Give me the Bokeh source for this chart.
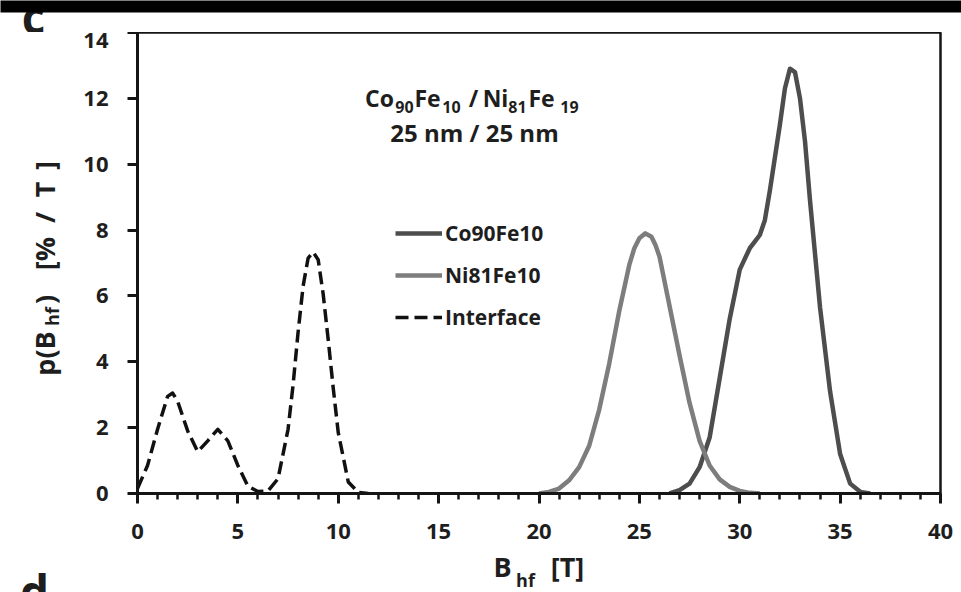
import math
from bokeh.plotting import figure
from bokeh.models import (Range1d, SingleIntervalTicker, Label, Legend, LegendItem)
from bokeh.layouts import column, row
from bokeh.embed import file_html
from bokeh.resources import INLINE

# ---------------- data ----------------
x_interface = [0.0, 0.5, 1.0, 1.5, 1.75, 2.0, 2.5, 3.0, 3.5, 4.0, 4.5, 5.0, 5.5, 6.0,
               6.5, 7.0, 7.5, 7.75, 8.0, 8.25, 8.5, 8.75, 9.0, 9.25, 9.5, 9.75,
               10.0, 10.5, 11.0, 11.5]
y_interface = [0.15, 0.85, 1.95, 2.95, 3.05, 2.8, 1.9, 1.27, 1.6, 1.95, 1.6, 0.85, 0.22, 0.06,
               0.08, 0.45, 1.95, 3.3, 4.9, 6.3, 7.15, 7.33, 7.1, 6.05, 4.67, 3.2,
               1.85, 0.35, 0.03, 0.0]

x_ni = [20.0, 20.5, 21.0, 21.5, 22.0, 22.5, 23.0, 23.5, 24.0, 24.5, 24.75, 25.0, 25.3, 25.6,
        25.8, 26.0, 26.5, 27.0, 27.5, 28.0, 28.5, 29.0, 29.5, 30.0, 30.5, 31.0]
y_ni = [0.0, 0.05, 0.15, 0.4, 0.8, 1.45, 2.55, 3.95, 5.55, 6.95, 7.45, 7.75, 7.9, 7.8,
        7.55, 7.2, 5.7, 4.2, 2.75, 1.6, 0.85, 0.43, 0.2, 0.08, 0.02, 0.0]

x_co = [26.5, 27.0, 27.5, 28.0, 28.5, 29.0, 29.5, 30.0, 30.5, 30.75, 31.0, 31.25, 31.5, 31.75,
        32.0, 32.25, 32.5, 32.75, 33.0, 33.25, 33.5, 34.0, 34.5, 35.0, 35.5, 36.0, 36.5]
y_co = [0.0, 0.1, 0.3, 0.8, 1.7, 3.5, 5.3, 6.8, 7.45, 7.65, 7.85, 8.3, 9.2, 10.2,
        11.2, 12.3, 12.9, 12.8, 12.0, 10.7, 8.9, 5.65, 3.1, 1.2, 0.3, 0.05, 0.0]

series_labels = ["Co90Fe10", "Ni81Fe10", "Interface"]
x_ticks_interval = 5
y_ticks_interval = 2

# ---------------- layout constants (page pixels) ----------------
W, PAGE_H = 961, 592
BAND_H = 12
FRAME_L, FRAME_R, FRAME_T, FRAME_B = 137, 940, 32, 493
TOP_H = FRAME_T                 # strip above the plot (black band + letter c)
LEFT_W = 75
BOTTOM_H = 45
MID_H = PAGE_H - TOP_H - BOTTOM_H
X0, X1, Y0, Y1 = 0, 40, 0, 14
TXT = "#1e1e1e"
FONT = "Open Sans"


def X(px):
    return X0 + (px - FRAME_L) * (X1 - X0) / (FRAME_R - FRAME_L)


def Y(py):
    return Y0 + (FRAME_B - py) * (Y1 - Y0) / (FRAME_B - FRAME_T)


p = figure(width=W - LEFT_W, height=MID_H, output_backend="svg", toolbar_location=None,
           title=None,
           x_range=Range1d(X0, X1), y_range=Range1d(Y0, Y1),
           min_border_left=FRAME_L - LEFT_W, min_border_right=W - FRAME_R,
           min_border_top=0,
           min_border_bottom=TOP_H + MID_H - FRAME_B,
           background_fill_color="white", border_fill_color="white")
p.xgrid.visible = False
p.ygrid.visible = False
p.outline_line_color = "#151515"
p.outline_line_width = 2.5

r_co = p.line(x_co, y_co, line_color="#4d4d4d", line_width=4.5, line_join="round")
r_ni = p.line(x_ni, y_ni, line_color="#7d7d7d", line_width=4.5, line_join="round")
r_if = p.line(x_interface, y_interface, line_color="#111111", line_width=3.5,
              line_dash="13 6", line_join="round")

# axes
p.xaxis.ticker = SingleIntervalTicker(interval=x_ticks_interval, num_minor_ticks=5)
p.yaxis.ticker = SingleIntervalTicker(interval=y_ticks_interval, num_minor_ticks=0)
for ax in (p.xaxis[0], p.yaxis[0]):
    ax.axis_line_color = "#151515"
    ax.axis_line_width = 3
    ax.major_tick_line_color = "#151515"
    ax.major_tick_line_width = 3
    ax.major_tick_in = 0
    ax.major_tick_out = 10
    ax.minor_tick_in = 0
    ax.major_label_text_font = FONT
    ax.major_label_text_font_style = "bold"
    ax.major_label_text_font_size = "22px"
    ax.major_label_text_color = TXT
p.xaxis.minor_tick_out = 6
p.xaxis.minor_tick_line_width = 2.5
p.xaxis.minor_tick_line_color = "#151515"
p.yaxis.minor_tick_line_color = None
p.xaxis.major_label_standoff = 20
p.yaxis.major_label_standoff = 19

# legend
legend = Legend(items=[LegendItem(label=series_labels[0], renderers=[r_co]),
                       LegendItem(label=series_labels[1], renderers=[r_ni]),
                       LegendItem(label=series_labels[2], renderers=[r_if])],
                location=(258, 162), orientation="vertical")
legend.border_line_color = None
legend.background_fill_alpha = 0
legend.padding = 0
legend.margin = 0
legend.spacing = 14
legend.glyph_width = 47
legend.glyph_height = 22
legend.label_height = 22
legend.label_standoff = 3
legend.label_text_font = FONT
legend.label_text_font_style = "bold"
legend.label_text_font_size = "21px"
legend.label_text_color = TXT
p.add_layout(legend, "center")


def lab(fig, x, y, text, size, angle=0.0):
    # text is centred on (x, y)
    fig.add_layout(Label(x=x, y=y, text=text, text_font=FONT,
                         text_font_style="bold", text_font_size=f"{size}px",
                         text_color=TXT, angle=angle, text_align="center",
                         text_baseline="middle"))


# title block inside the plot (centres given in page pixels)
for px, py, t, s in [(379, 97, "Co", 23), (404, 106, "90", 16), (427, 97, "Fe", 23),
                     (451, 106, "10", 16), (473, 97, "/", 23), (495, 97, "Ni", 23),
                     (517, 106, "81", 16), (541, 97, "Fe", 23), (569, 106, "19", 16)]:
    lab(p, X(px), Y(py), t, s)
lab(p, X(474), Y(132), "25 nm / 25 nm", 24)


def blank(width, height, border_bottom=0):
    f = figure(width=width, height=height, output_backend="svg", toolbar_location=None,
               title=None,
               x_range=Range1d(0, width), y_range=Range1d(0, height - border_bottom),
               x_axis_location=None, y_axis_location=None, min_border=0,
               min_border_bottom=border_bottom,
               background_fill_color="white", border_fill_color="white",
               outline_line_color=None)
    f.grid.visible = False
    return f


# top strip: black band and panel letter c
top = blank(W, TOP_H)
lab(top, 33, TOP_H - 15, "c", 46)
top.quad(left=0, right=W, bottom=TOP_H - BAND_H, top=TOP_H, fill_color="black",
         line_color=None, level="overlay")

# left strip: rotated y axis label; its frame matches the plot frame
left = blank(LEFT_W, MID_H, border_bottom=TOP_H + MID_H - FRAME_B)
A = math.pi / 2
for py, t, s, cx in [(353, "p(B", 27, 44), (316, "hf", 18, 51), (299, ")", 27, 44),
                     (253, "[%", 27, 44), (217, "/", 27, 44), (189, "T", 27, 44),
                     (165, "]", 27, 44)]:
    lab(left, cx, FRAME_B - py, t, s, angle=A)

# bottom strip: x axis label and panel letter d
bottom = blank(W, BOTTOM_H)
BB = PAGE_H
lab(bottom, 502, BB - 566, "B", 27)
lab(bottom, 525, BB - 579, "hf", 18)
lab(bottom, 567, BB - 566, "[T]", 27)
lab(bottom, 34, BB - 590, "d", 46)

layout = column(top, row(left, p, spacing=0), bottom, spacing=0)
open("out.html", "w").write(file_html(layout, INLINE))
